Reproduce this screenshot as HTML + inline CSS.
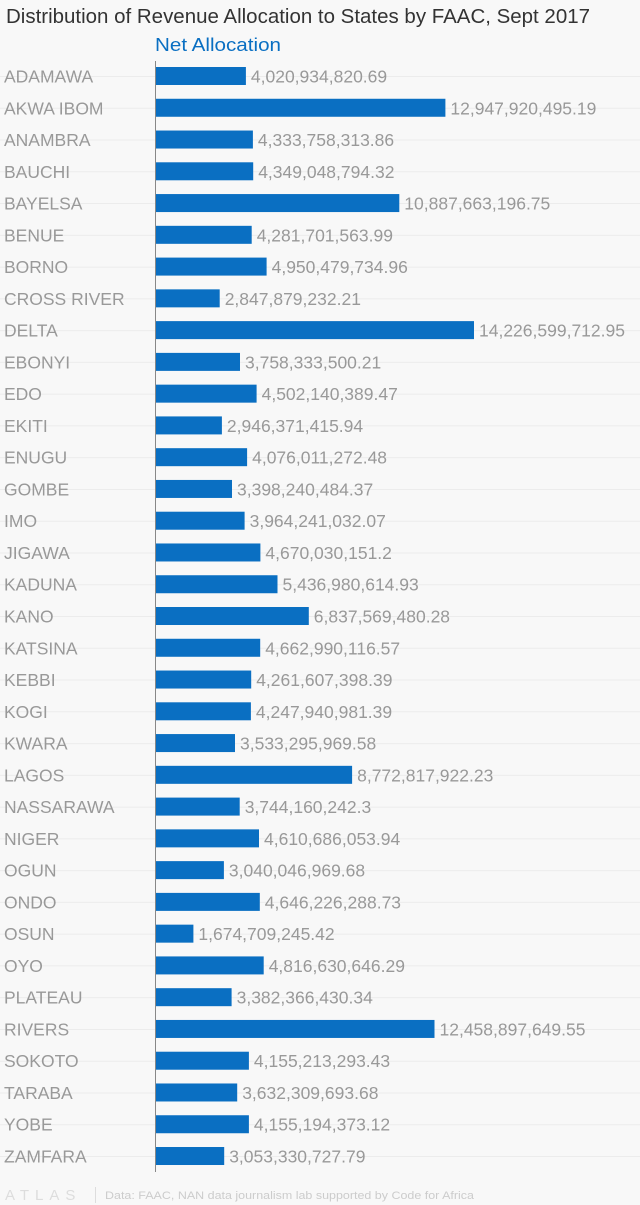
<!DOCTYPE html>
<html><head><meta charset="utf-8"><style>
html,body{margin:0;padding:0;background:#f8f8f8;}
svg{display:block;font-family:"Liberation Sans",sans-serif;}
</style></head><body>
<svg width="640" height="1205" viewBox="0 0 640 1205" xmlns="http://www.w3.org/2000/svg">
<rect width="640" height="1205" fill="#f8f8f8"/>
<text x="6" y="23" font-size="20" fill="#333" textLength="584" lengthAdjust="spacingAndGlyphs">Distribution of Revenue Allocation to States by FAAC, Sept 2017</text>
<text x="155" y="51" font-size="18" fill="#0a6fc2" textLength="126" lengthAdjust="spacingAndGlyphs">Net Allocation</text>
<g id="rows"></g>
<line x1="155.5" y1="61" x2="155.5" y2="1172" stroke="#888" stroke-width="1"/>
<text x="5" y="1200" font-size="15" fill="#ddd" letter-spacing="6">ATLAS</text>
<line x1="95.5" y1="1187" x2="95.5" y2="1203" stroke="#ddd"/>
<text x="105" y="1199" font-size="11" fill="#ccc" textLength="369" lengthAdjust="spacingAndGlyphs">Data: FAAC, NAN data journalism lab supported by Code for Africa</text>
</svg>
<script>
var d=[["ADAMAWA","4,020,934,820.69"],["AKWA IBOM","12,947,920,495.19"],["ANAMBRA","4,333,758,313.86"],["BAUCHI","4,349,048,794.32"],["BAYELSA","10,887,663,196.75"],["BENUE","4,281,701,563.99"],["BORNO","4,950,479,734.96"],["CROSS RIVER","2,847,879,232.21"],["DELTA","14,226,599,712.95"],["EBONYI","3,758,333,500.21"],["EDO","4,502,140,389.47"],["EKITI","2,946,371,415.94"],["ENUGU","4,076,011,272.48"],["GOMBE","3,398,240,484.37"],["IMO","3,964,241,032.07"],["JIGAWA","4,670,030,151.2"],["KADUNA","5,436,980,614.93"],["KANO","6,837,569,480.28"],["KATSINA","4,662,990,116.57"],["KEBBI","4,261,607,398.39"],["KOGI","4,247,940,981.39"],["KWARA","3,533,295,969.58"],["LAGOS","8,772,817,922.23"],["NASSARAWA","3,744,160,242.3"],["NIGER","4,610,686,053.94"],["OGUN","3,040,046,969.68"],["ONDO","4,646,226,288.73"],["OSUN","1,674,709,245.42"],["OYO","4,816,630,646.29"],["PLATEAU","3,382,366,430.34"],["RIVERS","12,458,897,649.55"],["SOKOTO","4,155,213,293.43"],["TARABA","3,632,309,693.68"],["YOBE","4,155,194,373.12"],["ZAMFARA","3,053,330,727.79"]];
var g=document.getElementById('rows'),h="";
d.forEach(function(r,i){
 var c=76+i*31.765;var v=parseFloat(r[1].replace(/,/g,''))/1e9;var w=v*22.35;
 h+='<line x1="0" y1="'+(c+0.5)+'" x2="640" y2="'+(c+0.5)+'" stroke="#ececec"/>';
 h+='<text x="4" y="'+(c+6.5)+'" font-size="17.5" fill="#999">'+r[0]+'</text>';
 h+='<rect x="156" y="'+(c-9)+'" width="'+w.toFixed(1)+'" height="18" fill="#0a6fc2"/>';
 h+='<text x="'+(156+w+5).toFixed(1)+'" y="'+(c+6.5)+'" font-size="17.5" fill="#999">'+r[1]+'</text>';
});
g.innerHTML=h;
</script>
</body></html>
